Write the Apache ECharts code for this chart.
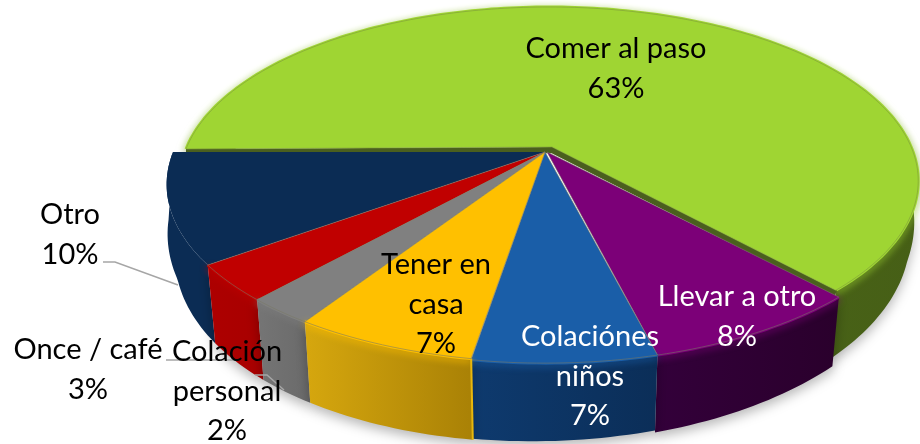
<!DOCTYPE html>
<html><head><meta charset="utf-8">
<style>html,body{margin:0;padding:0;background:#fff}#c{width:920px;height:444px}</style>
<script src="https://cdn.jsdelivr.net/npm/echarts@6/dist/echarts.min.js"></script>
</head><body><div id="c"></div>
<script>
var categories = ['Comer al paso','Llevar a otro','Colaciónes niños','Tener en casa','Colación personal','Once / café','Otro'];
var values = [63, 8, 6.6, 6.6, 2.45, 3.35, 10];
var labelLines = [['Comer al paso'],['Llevar a otro'],['Colaciónes','niños'],['Tener en','casa'],['Colación','personal'],['Once / café'],['Otro']];

var topColors = ['#9fd533','#7c0078','#1a5ea8','#ffc000','#808080','#c00000','#0b2c54'];
var wallColors = [['#55731c','#465f16'],['#33003a','#2a002c'],['#0e3a6e','#0b2e58'],['#d6a70e','#a98106'],['#757575','#6a6a6a'],['#ad0000','#a80000'],['#0b2c54','#0b2c54']];
var textColors = ['#000','#fff','#fff','#000','#000','#000','#000'];
var paintOrder = [0,6,5,4,1,2,3];
var labelPos = [[616,49],[737,297],[590,337],[436,265],[227,352],[88,350],[70,215]];
var leaderLines = [
  [[103,262],[115,262],[178,285]],
  [[166,360],[235,360]],
  [[255,375],[267,375],[284,390]]
];
var K = 0.183;
function pose(i){
  if(i===0) return {ax:552,ay:147,cx:549,cy:149,R:363,Ry:168,dh:0,flare:0};
  if(i===1) return {ax:547,ay:152,cx:545,cy:152,R:372,Ry:172.5,dh:0,flare:0};
  if(i===2) return {ax:545,ay:152,cx:545,cy:152,R:372,Ry:172.5,dh:-2,flare:0};
  return {ax:545,ay:152,cx:545,cy:152,R:372,Ry:171.6,dh:0,flare:i===6?0.012:0};
}
var total = values.reduce(function(a,b){return a+b;},0);
var cum = []; values.reduce(function(a,b,i){cum[i]=a;return a+b;},0);

function pt(p,deg){ // clockwise from the back of the disc
  var t=deg*Math.PI/180, u=Math.sin(t), v=-Math.cos(t), s=1/(1-K*v);
  var x=p.cx+p.R*u*s, y=p.cy+p.Ry*v*s;
  var h=60+20*v-8*u+p.dh;
  var shrink=1+p.flare-(0.022+p.flare)*Math.max(0,Math.min(1,v/0.3));
  return {x:x,y:y,bx:p.cx+(x-p.cx)*shrink,by:y+h};
}
function renderSlice(params,api){
  var i=api.value(1), val=api.value(0), p=pose(i);
  var a0=270+cum[i]/total*360, a1=a0+val/total*360;
  var n=Math.max(6,Math.ceil(val*3)), top=[], bot=[];
  for(var k=0;k<=n;k++){ var q=pt(p,a0+(a1-a0)*k/n); top.push([q.x,q.y]); bot.push([q.bx,q.by]); }
  var wallPts=top.concat(bot.slice().reverse());
  var facePts=[[p.ax,p.ay]].concat(top);
  var grad=new echarts.graphic.LinearGradient(0,0,1,0,[{offset:0,color:wallColors[i][0]},{offset:1,color:wallColors[i][1]}]);
  var wallStyle={fill:grad};
  if(i!==6){wallStyle.shadowBlur=12;wallStyle.shadowColor='rgba(0,0,0,0.28)';wallStyle.shadowOffsetY=5;}
  var kids=[{type:'polygon',shape:{points:wallPts},style:wallStyle}];
  if(i!==6) kids.push({type:'polyline',shape:{points:top},style:{fill:null,stroke:topColors[i],lineWidth:3,shadowBlur:7,shadowColor:topColors[i],shadowOffsetY:2}});
  if(i===0) kids.push({type:'polyline',shape:{points:[top[n],[p.ax,p.ay],top[0]].map(function(c){return [c[0],c[1]+3];})},style:{fill:null,stroke:'#4a5f1e',lineWidth:6}});
  if(i===3) kids.push({type:'line',shape:{x1:top[0][0],y1:top[0][1],x2:bot[0][0],y2:bot[0][1]},style:{stroke:'#e8b70c',lineWidth:2}});
  var faceStyle={fill:topColors[i]};
  if(i===0){faceStyle.stroke='#7d9a3a';faceStyle.lineWidth=0.6;}
  else if(i!==6){faceStyle.stroke='rgba(120,120,100,0.7)';faceStyle.lineWidth=0.8;}
  kids.push({type:'polygon',shape:{points:facePts},style:faceStyle});
  return {type:'group',children:kids};
}
function renderLabel(params,api){
  var i=api.value(1), lines=labelLines[i].concat([Math.round(api.value(0)/total*100)+'%']);
  return {type:'group',children:[{type:'text',style:{x:labelPos[i][0],y:labelPos[i][1]-20,text:lines.join('\n'),fill:textColors[i],font:'29px Lato, "Open Sans", sans-serif',lineHeight:39.5,align:'center',verticalAlign:'top'}}]};
}
function renderLeader(params,api){
  var l=leaderLines[params.dataIndex];
  return {type:'polyline',shape:{points:l},style:{fill:null,stroke:'#a6a6a6',lineWidth:1.5}};
}
var chart=echarts.init(document.getElementById('c'),null,{renderer:'canvas'});
chart.setOption({
  animation:false,
  series:[
    {type:'custom',coordinateSystem:'none',renderItem:renderSlice,silent:true,z:1,
     data:paintOrder.map(function(i){return {name:categories[i],value:[values[i],i]};})},
    {type:'custom',coordinateSystem:'none',renderItem:renderLeader,silent:true,z:2,
     data:leaderLines.map(function(l,i){return [i];})},
    {type:'custom',coordinateSystem:'none',renderItem:renderLabel,silent:true,z:3,
     data:categories.map(function(c,i){return {name:c,value:[values[i],i]};})}
  ]
});
</script></body></html>
